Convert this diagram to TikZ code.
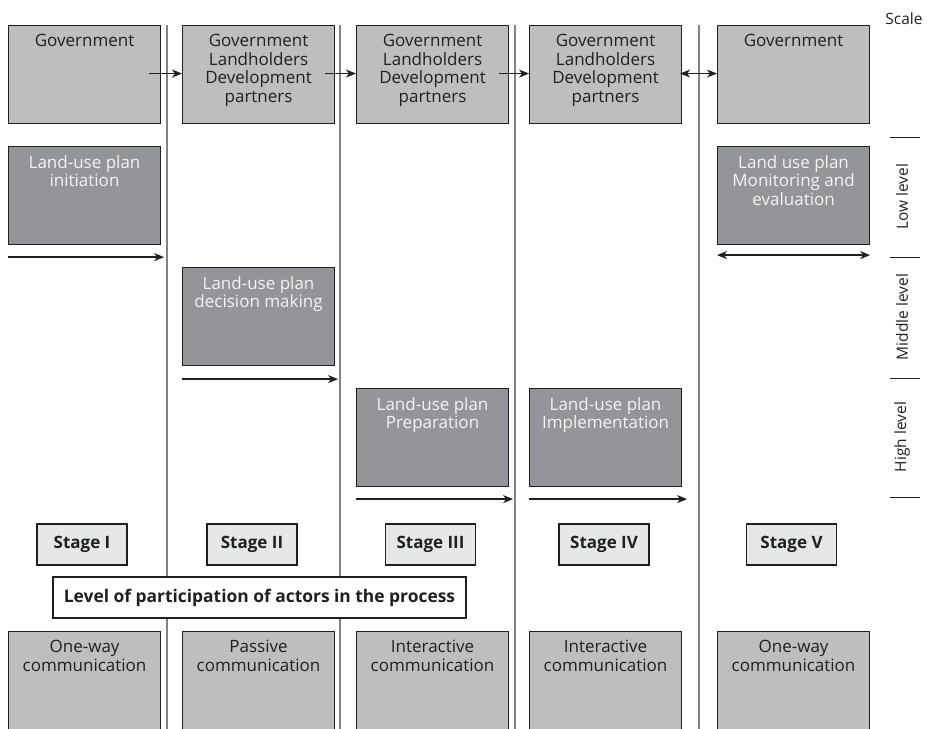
\documentclass[tikz,border=0pt]{standalone}
\usepackage{fontspec}
\setmainfont{Open Sans}
\usetikzlibrary{arrows.meta}
\definecolor{lightbox}{HTML}{BCBEC0}
\definecolor{darkbox}{HTML}{939598}
\definecolor{stagebox}{HTML}{E6E7E8}
\definecolor{edge}{HTML}{231F20}
\definecolor{sep}{HTML}{808285}
\definecolor{whitetext}{HTML}{F4F4F4}
\begin{document}
\begin{tikzpicture}[x=1pt,y=-1pt,
  box/.style={draw=edge, line width=1.1pt, minimum width=152pt, minimum height=98pt, anchor=north west, inner sep=0pt},
  lbox/.style={box, fill=lightbox},
  dbox/.style={box, fill=darkbox},
  boxtext/.style={anchor=north, yshift=-9pt, align=center, inner sep=0pt, font=\fontsize{17}{18.7}\selectfont},
  ltext/.style={boxtext, text=edge},
  dtext/.style={boxtext, text=whitetext},
  stagebx/.style={draw=edge, line width=1.1pt, fill=stagebox, minimum width=90pt, minimum height=41pt, inner sep=0pt, font=\bfseries\fontsize{17}{18}\selectfont, text=edge},
  sepline/.style={draw=sep, line width=2pt},
  tip/.tip={Stealth[length=10pt,width=8pt,inset=3pt]},
  arr/.style={draw=edge, line width=1.4pt, -tip},
  darr/.style={draw=edge, line width=1.4pt, tip-tip},
  scaletext/.style={font=\fontsize{15.5}{17}\selectfont, text=edge, inner sep=0pt},
  tick/.style={draw=edge, line width=1pt}
]
\useasboundingbox (0,0) rectangle (928,728);
\clip (0,0) rectangle (928,728);

% separator lines
\coordinate (s1t) at (167,25);  \coordinate (s1b) at (167,740);
\coordinate (s2t) at (340,25);  \coordinate (s2b) at (340,740);
\coordinate (s3t) at (515,25);  \coordinate (s3b) at (515,740);
\coordinate (s4t) at (699,25);  \coordinate (s4b) at (699,740);
\draw[sepline] (s1t) -- (s1b);
\draw[sepline] (s2t) -- (s2b);
\draw[sepline] (s3t) -- (s3b);
\draw[sepline] (s4t) -- (s4b);

% top row: actors
\node[lbox, label={[ltext]north:Government}] (g1) at (8,25) {};
\node[lbox, label={[ltext]north:Government\\Landholders\\Development\\partners}] (g2) at (182,25) {};
\node[lbox, label={[ltext]north:Government\\Landholders\\Development\\partners}] (g3) at (356,25) {};
\node[lbox, label={[ltext]north:Government\\Landholders\\Development\\partners}] (g4) at (529,25) {};
\node[lbox, label={[ltext]north:Government}] (g5) at (717,25) {};

\draw[arr] ([xshift=-12pt,yshift=1pt]g1.east) -- ([yshift=1pt]g2.west);
\draw[arr] ([xshift=-10pt,yshift=1pt]g2.east) -- ([yshift=1pt]g3.west);
\draw[arr] ([xshift=-10pt,yshift=1pt]g3.east) -- ([yshift=1pt]g4.west);
\draw[darr] ([xshift=-2pt,yshift=1pt]g4.east) -- ([yshift=1pt]g5.west);

% activity boxes
\node[dbox, label={[dtext]north:Land-use plan\\initiation}] (d1) at (8,146) {};
\node[dbox, label={[dtext]north:Land-use plan\\decision making}] (d2) at (182,267) {};
\node[dbox, label={[dtext]north:Land-use plan\\Preparation}] (d3) at (356,388) {};
\node[dbox, label={[dtext]north:Land-use plan\\Implementation}] (d4) at (529,388) {};
\node[dbox, label={[dtext]north:Land use plan\\Monitoring and\\evaluation}] (d5) at (717,146) {};

\draw[arr] ([yshift=-12pt]d1.south west) -- ([yshift=-12pt,xshift=3pt]d1.south east);
\draw[arr] ([yshift=-13pt]d2.south west) -- ([yshift=-13pt,xshift=3pt]d2.south east);
\draw[arr] ([yshift=-12pt]d3.south west) -- ([yshift=-12pt,xshift=4pt]d3.south east);
\draw[arr] ([yshift=-12pt]d4.south west) -- ([yshift=-12pt,xshift=5pt]d4.south east);
\draw[darr] ([yshift=-10pt]d5.south west) -- ([yshift=-10pt]d5.south east);

% scale
\node[scaletext, anchor=center] (scale) at (904,19) {Scale};
\coordinate (t1a) at (890,137); \coordinate (t1b) at (920,137);
\coordinate (t2a) at (890,257); \coordinate (t2b) at (920,257);
\coordinate (t3a) at (890,378); \coordinate (t3b) at (920,378);
\coordinate (t4a) at (890,497); \coordinate (t4b) at (920,497);
\draw[tick] (t1a) -- (t1b);
\draw[tick] (t2a) -- (t2b);
\draw[tick] (t3a) -- (t3b);
\draw[tick] (t4a) -- (t4b);
\node[scaletext, rotate=90] (low) at (902,197) {Low level};
\node[scaletext, rotate=90] (mid) at (902,317) {Middle level};
\node[scaletext, rotate=90] (high) at (902,437) {High level};

% stages
\node[stagebx] (st1) at (82,544.5) {Stage I};
\node[stagebx] (st2) at (252,544.5) {Stage II};
\node[stagebx] (st3) at (430.5,544.5) {Stage III};
\node[stagebx] (st4) at (604,544.5) {Stage IV};
\node[stagebx] (st5) at (791.5,544.5) {Stage V};

% level of participation
\node[draw=edge, line width=1.1pt, fill=white, minimum width=413pt, minimum height=41pt, inner sep=0pt, font=\bfseries\fontsize{17.4}{19}\selectfont, text=edge] (level) at (259.5,597.5) {Level of participation of actors in the process};

% communication boxes
\node[lbox, minimum height=110pt, label={[ltext]north:One-way\\communication}] (c1) at (8,631) {};
\node[lbox, minimum height=110pt, label={[ltext]north:Passive\\communication}] (c2) at (182,631) {};
\node[lbox, minimum height=110pt, label={[ltext]north:Interactive\\communication}] (c3) at (356,631) {};
\node[lbox, minimum height=110pt, label={[ltext]north:Interactive\\communication}] (c4) at (529,631) {};
\node[lbox, minimum height=110pt, label={[ltext]north:One-way\\communication}] (c5) at (717,631) {};
\end{tikzpicture}
\end{document}
